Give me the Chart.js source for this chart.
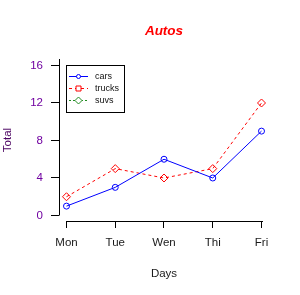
<!DOCTYPE html>
<html><head><meta charset="utf-8">
<style>html,body{margin:0;padding:0;background:#fff}#wrap{width:300px;height:295px}</style>
<script src="https://cdn.jsdelivr.net/npm/chart.js@4"></script>
</head><body><div id="wrap"><canvas id="c" width="300" height="295"></canvas></div>
<script>
const days = ['Mon','Tue','Wen','Thi','Fri'];
const cars = [1,3,6,4,9];
const trucks = [2,5,4,5,12];
const suvs = [null,null,null,null,null];
const seriesNames = ['cars','trucks','suvs'];
const seriesColors = ['#0000FF','#FF0000','#228B22'];
const legendMarkers = ['circle','rect','rectRot'];
const yTicks = [0,4,8,12,16];
const FONT = '"Liberation Sans", Arial, sans-serif';

const toPts = arr => arr.map((v,i)=>({x:i+1,y:v}));

const rAxes = {
  id:'rAxes',
  afterDraw(chart){
    const {ctx, chartArea, scales:{x,y}} = chart;
    ctx.save();
    ctx.strokeStyle='#000'; ctx.lineWidth=1; ctx.setLineDash([]);
    const lx = Math.round(chartArea.left)+0.5;
    ctx.beginPath(); ctx.moveTo(lx, chartArea.top); ctx.lineTo(lx, Math.round(y.getPixelForValue(yTicks[0]))+0.5); ctx.stroke();
    const by = Math.round(chartArea.bottom)+0.5;
    ctx.beginPath(); ctx.moveTo(Math.round(x.getPixelForValue(1)), by); ctx.lineTo(Math.round(x.getPixelForValue(days.length))+1, by); ctx.stroke();
    ctx.restore();
  }
};

const rLegend = {
  id:'rLegend',
  afterDatasetsDraw(chart){
    const ctx = chart.ctx;
    const ds = chart.data.datasets;
    ctx.save();
    ctx.strokeStyle='#000'; ctx.lineWidth=1; ctx.setLineDash([]);
    ctx.strokeRect(66.5, 65.5, 58, 47);
    ds.forEach((d,i)=>{
      const yy = 76.5 + i*12;
      ctx.strokeStyle = d.borderColor; ctx.lineWidth = 1;
      ctx.setLineDash(d.borderDash || []);
      ctx.beginPath(); ctx.moveTo(69, yy); ctx.lineTo(88, yy); ctx.stroke();
      ctx.setLineDash([]);
      ctx.fillStyle='#fff';
      const m = legendMarkers[i];
      ctx.beginPath();
      if (m==='circle'){ ctx.arc(78.5, yy, 2, 0, Math.PI*2); }
      else if (m==='rect'){ ctx.rect(76, yy-2.5, 5, 5); }
      else { ctx.moveTo(78.5, yy-3.5); ctx.lineTo(82, yy); ctx.lineTo(78.5, yy+3.5); ctx.lineTo(75, yy); ctx.closePath(); }
      ctx.fill(); ctx.stroke();
      ctx.fillStyle='#111'; ctx.font = '9px '+FONT; ctx.textBaseline='middle'; ctx.textAlign='left';
      ctx.fillText(d.label, 95, yy);
    });
    ctx.restore();
  }
};

new Chart(document.getElementById('c'), {
  type:'line',
  data:{
    datasets:[
      {label:seriesNames[0], data:toPts(cars), borderColor:seriesColors[0], borderWidth:1, pointStyle:'circle', pointRadius:3, pointBorderWidth:1, pointBackgroundColor:'rgba(0,0,0,0)', pointBorderColor:seriesColors[0], tension:0, fill:false},
      {label:seriesNames[1], data:toPts(trucks), borderColor:seriesColors[1], borderWidth:1, borderDash:[3,3], pointStyle:'rectRot', pointRadius:4, pointBorderWidth:1, pointBackgroundColor:'rgba(0,0,0,0)', pointBorderColor:seriesColors[1], tension:0, fill:false},
      {label:seriesNames[2], data:toPts(suvs), borderColor:seriesColors[2], borderWidth:1, borderDash:[2,2], pointStyle:'rectRot', pointRadius:4, pointBorderWidth:1, pointBackgroundColor:'rgba(0,0,0,0)', pointBorderColor:seriesColors[2], tension:0, fill:false}
    ]
  },
  options:{
    responsive:false, animation:false, devicePixelRatio:1,
    layout:{padding:{left:0,right:31,top:0,bottom:0}},
    plugins:{
      legend:{display:false}, tooltip:{enabled:false},
      title:{display:true, text:'Autos', color:'#FF0000', fullSize:false,
        font:{family:FONT, size:13.5, weight:'bold', style:'italic'},
        padding:{top:23,bottom:19.8}}
    },
    scales:{
      x:{type:'linear', min:0.8462, max:5.1538,
        afterBuildTicks(s){ s.ticks = days.map((d,i)=>({value:i+1})); },
        afterFit(s){ s.height = 74; },
        border:{display:false},
        grid:{display:true, drawOnChartArea:false, drawTicks:true, tickLength:7, color:'#000', lineWidth:1},
        ticks:{autoSkip:false, maxRotation:0, padding:8, color:'#1a1a1a', font:{family:FONT,size:11.5},
          callback:(v)=>days[v-1]},
        title:{display:true, text:'Days', color:'#1a1a1a', font:{family:FONT,size:11.5}, padding:{top:0,bottom:14}}
      },
      y:{type:'linear', min:-0.587, max:16.693,
        afterBuildTicks(s){ s.ticks = yTicks.map(v=>({value:v})); },
        afterFit(s){ s.width = 59; },
        border:{display:false},
        grid:{display:true, drawOnChartArea:false, drawTicks:true, tickLength:8, color:'#000', lineWidth:1},
        ticks:{padding:8, color:'#7000A0', font:{family:FONT,size:11.5}},
        title:{display:true, text:'Total', color:'#4A0060', font:{family:FONT,size:11.5}, padding:{top:1,bottom:0}}
      }
    }
  },
  plugins:[rAxes, rLegend]
});
</script></body></html>
